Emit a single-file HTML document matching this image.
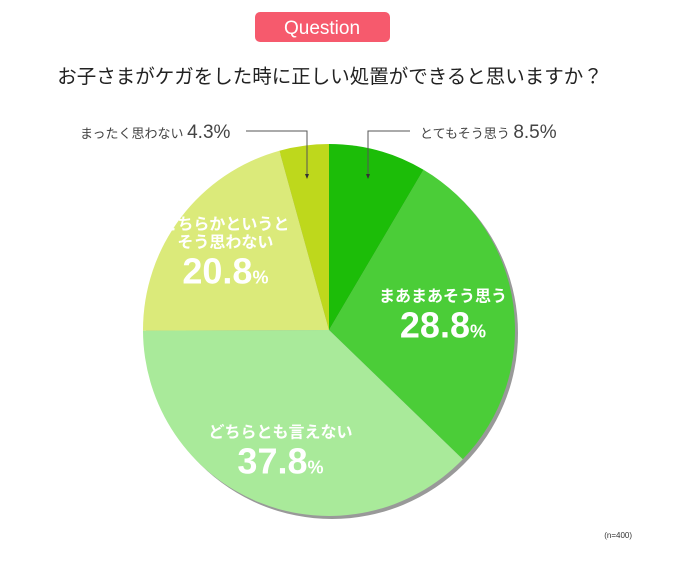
<!DOCTYPE html>
<html><head><meta charset="utf-8"><style>
body{margin:0;background:#fff;}
svg text{font-family:"Liberation Sans","Noto Sans CJK JP",sans-serif;}
</style></head><body>
<svg id="chart" width="680" height="563" viewBox="0 0 680 563">
<rect x="255" y="12" width="135" height="30" rx="5" fill="#f65a6d"/>
<text x="322" y="34" text-anchor="middle" font-size="19" fill="#fff">Question</text>
<text x="330" y="83" text-anchor="middle" font-size="19.5" fill="#222">お子さまがケガをした時に正しい処置ができると思いますか？</text>
<g id="slices"></g>
<g id="labels"></g>
<polyline points="246,131 307,131 307,178" fill="none" stroke="#555" stroke-width="1"/>
<polygon points="305,174 309,174 307,179" fill="#333"/>
<polyline points="410,131 368,131 368,178" fill="none" stroke="#555" stroke-width="1"/>
<polygon points="366,174 370,174 368,179" fill="#333"/>
<text x="80" y="138" font-size="13" fill="#444">まったく思わない <tspan font-size="19">4.3%</tspan></text>
<text x="420" y="138" font-size="13" fill="#444">とてもそう思う <tspan font-size="19">8.5%</tspan></text>
<text x="632" y="538" text-anchor="end" font-size="8" fill="#333">(n=400)</text>
</svg>
<script>
const categories=["とてもそう思う","まあまあそう思う","どちらとも言えない","どちらかというとそう思わない","まったく思わない"];
const values=[8.5,28.8,37.8,20.8,4.3];
const colors=["#1cbd08","#4bcd38","#a9ea9a","#dbea7a","#bed81c"];
const ns="http://www.w3.org/2000/svg";
const cx=329,cy=330,r=186;
const total=values.reduce((a,b)=>a+b,0);
function pt(a,rr){return [cx+rr*Math.sin(a),cy-rr*Math.cos(a)];}
const g=document.getElementById('slices');
const sh=document.createElementNS(ns,'circle');
sh.setAttribute('cx',cx+3);sh.setAttribute('cy',cy+3);sh.setAttribute('r',r);sh.setAttribute('fill','#999');


g.appendChild(sh);
let acc=0;const mids=[];
values.forEach((v,i)=>{
 const a0=acc/total*2*Math.PI;acc+=v;const a1=acc/total*2*Math.PI;mids.push((a0+a1)/2);
 const p0=pt(a0,r),p1=pt(a1,r);
 const p=document.createElementNS(ns,'path');
 p.setAttribute('d',`M${cx},${cy}L${p0[0]},${p0[1]}A${r},${r} 0 ${a1-a0>Math.PI?1:0} 1 ${p1[0]},${p1[1]}Z`);
 p.setAttribute('fill',colors[i]);
 
 
 g.appendChild(p);
});
const L=document.getElementById('labels');
const inner=[null,["まあまあそう思う"],["どちらとも言えない"],["どちらかというと","そう思わない"],null];
const rads=[0,115,130,130,0];
inner.forEach((lines,i)=>{
 if(!lines)return;
 const [x,y]=pt(mids[i],rads[i]);
 const startY=y-(lines.length*18)/2-4;
 lines.forEach((t,k)=>{
  const e=document.createElementNS(ns,'text');
  e.setAttribute('x',x);e.setAttribute('y',startY+k*18);e.setAttribute('text-anchor','middle');
  e.setAttribute('font-size','16');e.setAttribute('font-weight','bold');e.setAttribute('fill','#fff');
  e.textContent=t;
  
  
  L.appendChild(e);
 });
 const e=document.createElementNS(ns,'text');
 e.setAttribute('x',x);e.setAttribute('y',startY+(lines.length-1)*18+36);e.setAttribute('text-anchor','middle');
 e.setAttribute('font-size','36');e.setAttribute('font-weight','bold');e.setAttribute('fill','#fff');
 e.innerHTML=values[i].toFixed(1)+'<tspan font-size="18">%</tspan>';
 
 
 L.appendChild(e);
});
</script>
</body></html>
